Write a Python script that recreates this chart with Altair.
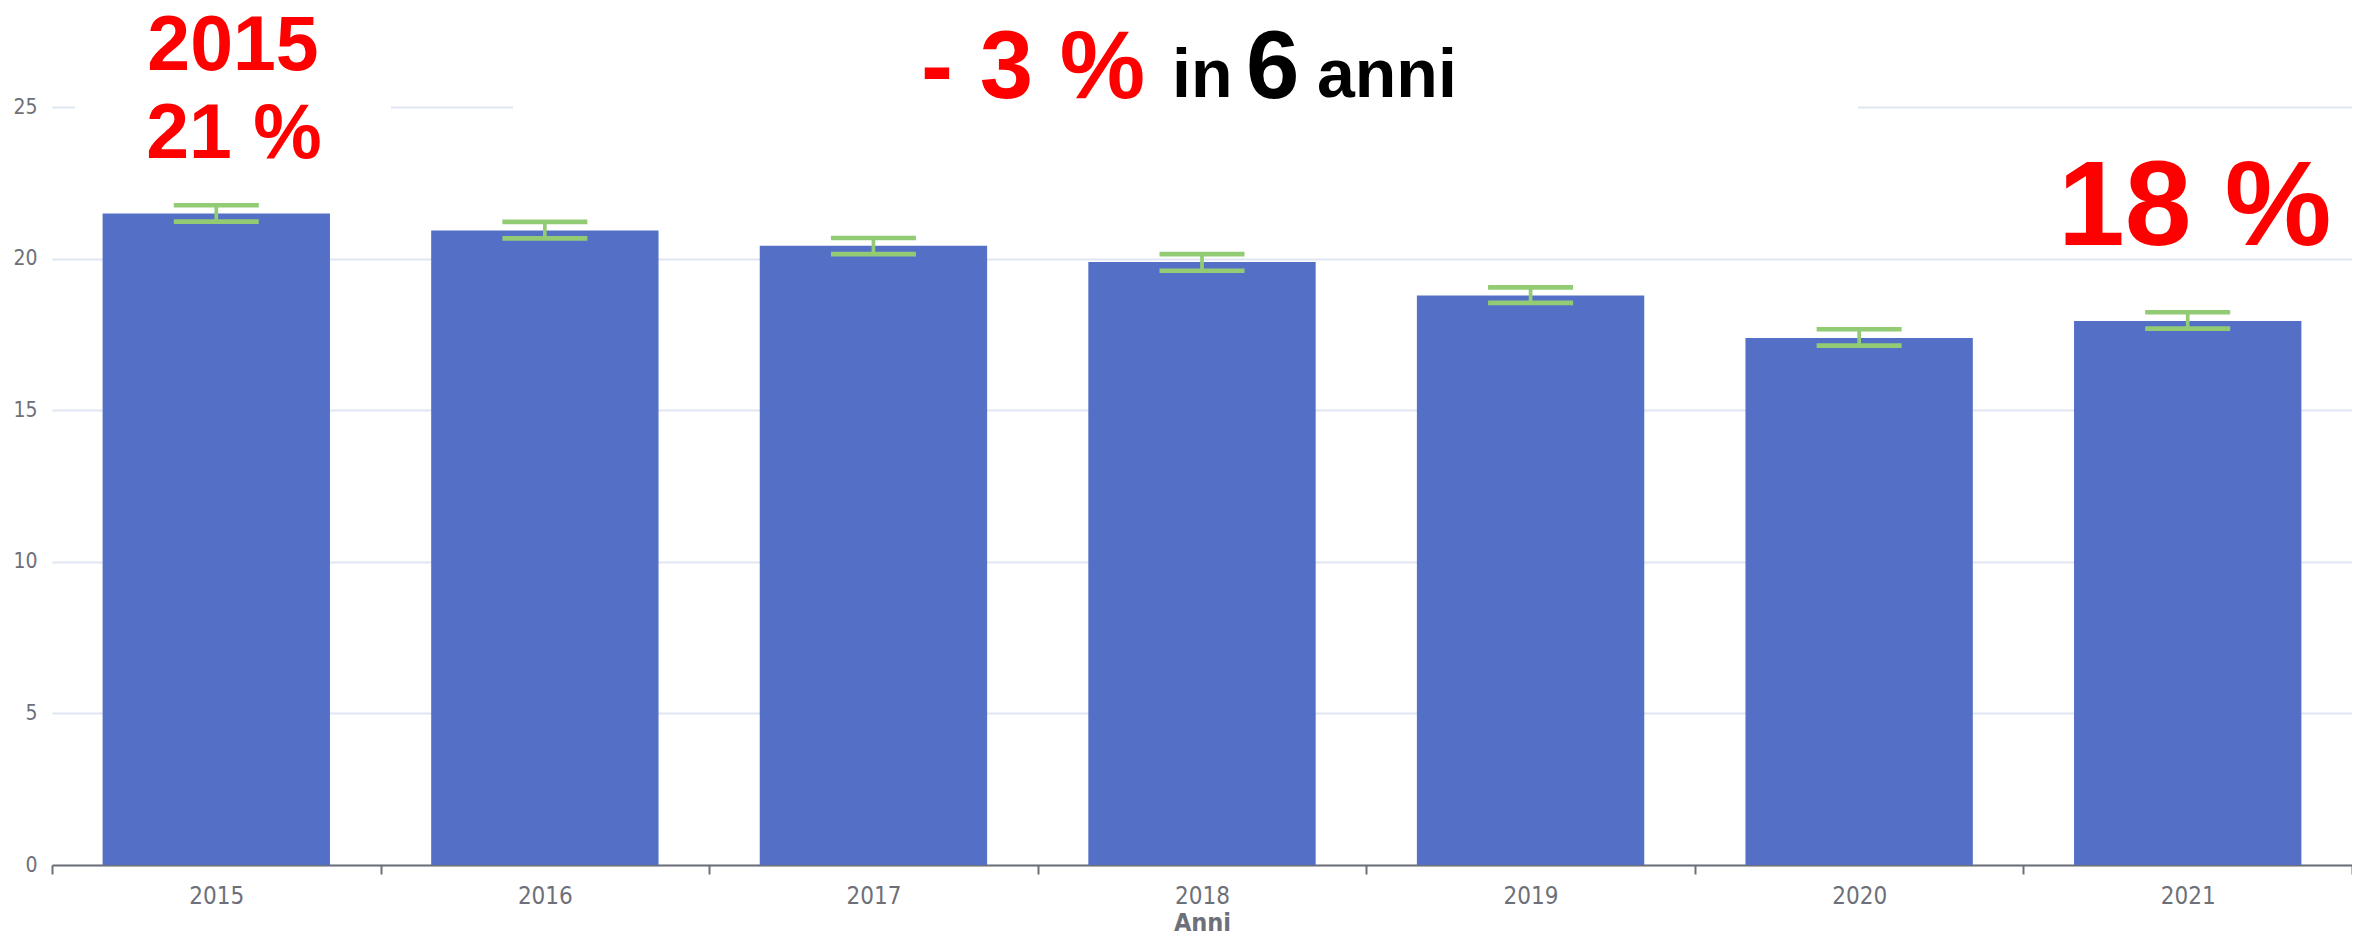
import altair as alt
import pandas as pd

# ---- data ----
years = ["2015", "2016", "2017", "2018", "2019", "2020", "2021"]
values = [21.49, 20.93, 20.42, 19.89, 18.78, 17.38, 17.94]
err_low = [21.22, 20.67, 20.15, 19.60, 18.54, 17.13, 17.69]
err_high = [21.76, 21.21, 20.68, 20.15, 19.05, 17.67, 18.23]
y_ticks = [0, 5, 10, 15, 20, 25]

df = pd.DataFrame({"Anno": years, "Valore": values, "Min": err_low, "Max": err_high})

BLUE = "#5470c6"
GREEN = "#91cc75"
AXIS = "#6E7079"
GRID = "#E0E6F1"
NARROW = "Liberation Sans Narrow, Arial Narrow, DejaVu Sans Condensed, sans-serif"
BOLD = "Liberation Sans, Arial, Helvetica, sans-serif"

xscale = alt.Scale(paddingInner=0, paddingOuter=0)
yscale = alt.Scale(domain=[0, 25], nice=False)
yaxis = alt.Axis(values=y_ticks, title=None)


def X():
    return alt.X("Anno:N", scale=xscale, title="Anni", sort=years)


bars = alt.Chart(df).mark_bar(color=BLUE, width=alt.RelativeBandSize(0.692)).encode(
    x=X(), y=alt.Y("Valore:Q", scale=yscale, axis=yaxis)
)
stem = alt.Chart(df).mark_rule(color=GREEN, strokeWidth=3.7).encode(
    x=X(), y=alt.Y("Min:Q", scale=yscale, axis=yaxis), y2="Max:Q"
)
cap_lo = alt.Chart(df).mark_tick(color=GREEN, thickness=4.7, size=85, orient="horizontal", opacity=1).encode(
    x=X(), y=alt.Y("Min:Q", scale=yscale, axis=yaxis)
)
cap_hi = alt.Chart(df).mark_tick(color=GREEN, thickness=4.7, size=85, orient="horizontal", opacity=1).encode(
    x=X(), y=alt.Y("Max:Q", scale=yscale, axis=yaxis)
)

one = alt.Data(values=[{}])


def box(x1, x2):
    return alt.Chart(one).mark_rect(color="white").encode(
        x=alt.value(x1), x2=alt.value(x2), y=alt.value(-4), y2=alt.value(4)
    )


def label(text, x, y, size, color, align="left"):
    return alt.Chart(one).mark_text(
        text=text, font=BOLD, fontWeight="bold", fontSize=size, color=color,
        align=align, baseline="alphabetic"
    ).encode(x=alt.value(x), y=alt.value(y))


annotations = [
    box(23, 339),
    box(461, 1806),
    label("2015", 181, -37, 77, "#ff0000", "center"),
    label("21 %", 182, 51, 77, "#ff0000", "center"),
    label("- 3 %", 869, -9, 96, "#ff0000"),
    label("in", 1120, -10, 68, "#000000"),
    label("6", 1194, -9, 96, "#000000"),
    label("anni", 1265, -10, 68, "#000000"),
    label("18 %", 2006, 138, 120, "#ff0000"),
]

chart = alt.layer(bars, stem, cap_lo, cap_hi, *annotations).properties(
    width=2300,
    height=758,
    autosize=alt.AutoSizeParams(type="none"),
    padding={"left": 44, "top": 99, "right": 0, "bottom": 73},
    background="white",
).configure_view(stroke=None).configure_axisX(
    tickBand="extent",
    tickExtra=False,
    labelAngle=0,
    domainColor=AXIS,
    domainWidth=2,
    tickColor=AXIS,
    tickWidth=2,
    tickSize=9,
    labelColor=AXIS,
    labelFont=NARROW,
    labelFontSize=24,
    labelPadding=10,
    titleFont=NARROW,
    titleFontWeight="bold",
    titleFontSize=25,
    titleColor=AXIS,
    titlePadding=2,
    grid=False,
).configure_axisY(
    domain=False,
    ticks=False,
    grid=True,
    gridColor=GRID,
    gridWidth=2,
    labelColor=AXIS,
    labelFont=NARROW,
    labelFontSize=21,
    labelPadding=15,
)

chart.save("out.html", embed_options={"renderer": "svg", "actions": False})
